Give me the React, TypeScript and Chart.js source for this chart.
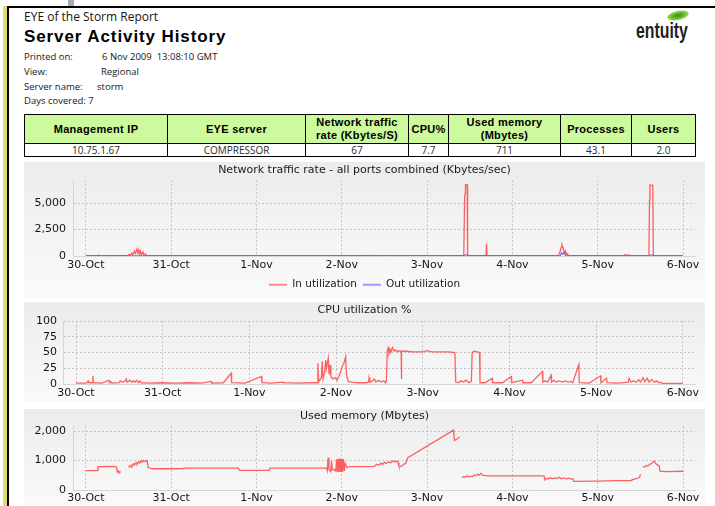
import React, { useEffect, useRef } from 'react';
import { Chart, registerables } from 'chart.js';

Chart.register(...registerables);

// ---------- data ----------
const dayLabels = ['30-Oct', '31-Oct', '1-Nov', '2-Nov', '3-Nov', '4-Nov', '5-Nov', '6-Nov'];
const dayTicks = [0, 1, 2, 3, 4, 5, 6, 7];

const netTicks = [0, 2500, 5000];
const cpuTicks = [0, 25, 50, 75, 100];
const memTicks = [0, 1000, 2000];

const netInData: [number, number][] = [
  [0.00, 20], [0.10, 25], [0.14, 20], [0.15, 90], [0.16, 20], [0.30, 30], [0.45, 25],
  [0.49, 40], [0.51, 160], [0.52, 60], [0.54, 280], [0.55, 120], [0.57, 450], [0.58, 220], [0.60, 650], [0.61, 280],
  [0.62, 560], [0.63, 180], [0.64, 480], [0.65, 110], [0.67, 380], [0.68, 70], [0.70, 200], [0.71, 30],
  [1.00, 25], [1.50, 30], [2.00, 25], [2.50, 30], [3.00, 25], [3.30, 30], [3.31, 70], [3.32, 25], [3.70, 30], [4.00, 30], [4.30, 25],
  [4.43, 30], [4.44, 5500], [4.445, 5900], [4.45, 6750], [4.47, 6750], [4.475, 30],
  [4.69, 30], [4.697, 1150], [4.703, 30],
  [5.00, 25], [5.30, 30], [5.54, 60], [5.56, 450], [5.57, 800], [5.58, 1080], [5.59, 850], [5.60, 560], [5.61, 300],
  [5.62, 480], [5.63, 170], [5.64, 250], [5.65, 30],
  [6.00, 25], [6.31, 30], [6.32, 130], [6.33, 30], [6.36, 110], [6.37, 30],
  [6.60, 30], [6.607, 5300], [6.612, 6700], [6.62, 6650], [6.63, 6700], [6.645, 6700], [6.652, 30],
  [7.00, 20],
];

const netOutData: [number, number][] = [
  [0.00, 5], [4.44, 5], [4.45, 110], [4.47, 110], [4.475, 5], [5.56, 5], [5.575, 300], [5.59, 180], [5.61, 330],
  [5.625, 5], [6.61, 5], [6.615, 90], [6.645, 90], [6.65, 5], [7.00, 5],
];

const cpuData: [number, number][] = [
  [0.00, 1.5], [0.10, 1.5], [0.13, 2], [0.14, 5], [0.15, 2], [0.19, 2], [0.195, 13], [0.20, 2], [0.30, 1.5], [0.38, 6], [0.385, 2], [0.40, 4], [0.41, 1.5],
  [0.50, 2], [0.51, 5], [0.53, 3], [0.56, 4], [0.58, 8], [0.59, 3], [0.62, 6], [0.64, 3], [0.66, 5], [0.68, 3], [0.70, 6], [0.72, 2], [0.74, 5], [0.75, 2],
  [0.85, 1.5], [1.00, 2], [1.15, 1.5], [1.30, 2], [1.45, 1.5], [1.56, 4], [1.565, 1.5], [1.70, 2], [1.79, 17], [1.795, 2], [1.95, 1.5],
  [2.14, 12], [2.145, 2], [2.25, 1.5], [2.39, 3], [2.395, 2], [2.55, 1.5], [2.70, 2], [2.78, 2],
  [2.79, 33], [2.80, 4], [2.83, 10], [2.84, 36], [2.85, 8], [2.87, 20], [2.88, 38], [2.89, 25], [2.91, 41], [2.92, 15], [2.93, 30], [2.94, 12],
  [2.96, 8], [2.99, 10], [3.01, 6], [3.04, 15], [3.06, 22], [3.07, 28], [3.09, 33], [3.11, 43], [3.12, 15], [3.14, 4], [3.18, 3],
  [3.25, 2], [3.35, 2], [3.375, 3], [3.38, 10], [3.39, 3], [3.42, 5], [3.44, 8], [3.46, 3], [3.49, 6], [3.52, 3], [3.55, 5], [3.57, 2],
  [3.58, 5], [3.59, 52], [3.60, 57], [3.61, 49], [3.62, 55], [3.63, 50], [3.65, 58], [3.67, 52], [3.69, 54], [3.71, 51], [3.73, 53], [3.75, 52],
  [3.752, 8], [3.758, 52], [3.80, 52], [3.90, 51], [4.00, 51], [4.05, 53], [4.10, 51], [4.20, 51], [4.30, 51], [4.37, 50],
  [4.38, 3], [4.41, 2], [4.44, 5], [4.47, 3], [4.50, 6], [4.53, 2], [4.56, 4],
  [4.57, 50], [4.59, 52], [4.63, 51], [4.655, 50], [4.66, 2], [4.72, 2], [4.80, 9], [4.805, 2], [4.92, 2], [5.02, 12], [5.025, 2],
  [5.15, 6], [5.155, 2], [5.25, 2], [5.38, 20], [5.385, 3], [5.41, 5], [5.44, 3], [5.48, 14], [5.485, 3], [5.51, 6], [5.54, 3], [5.57, 5],
  [5.61, 3], [5.64, 5], [5.68, 3], [5.71, 4], [5.73, 2],
  [5.80, 31], [5.805, 2], [5.92, 1.5], [6.05, 13], [6.055, 2], [6.12, 9], [6.125, 2], [6.25, 1.5],
  [6.37, 3], [6.38, 9], [6.40, 3], [6.43, 5], [6.46, 3], [6.49, 7], [6.51, 3], [6.54, 10], [6.56, 4], [6.59, 9], [6.61, 3], [6.64, 7],
  [6.67, 3], [6.70, 5], [6.72, 2], [6.74, 3], [6.76, 1], [7.00, 1],
];

const memData: [number, number | null][] = [
  [0.00, 660], [0.14, 660], [0.145, 790], [0.20, 795], [0.28, 800], [0.35, 795], [0.36, 770], [0.37, 610], [0.38, 650], [0.39, 580], [0.40, 640], [0.41, null],
  [0.49, null], [0.50, 810], [0.51, 780], [0.53, 840], [0.54, 800], [0.56, 890], [0.57, 850], [0.59, 930], [0.60, 880], [0.62, 960], [0.63, 910],
  [0.65, 990], [0.66, 940], [0.68, 1000], [0.70, 960], [0.71, 1000], [0.72, 990], [0.73, 760], [0.76, 730], [0.80, 720], [1.00, 720],
  [1.14, 722], [1.15, 745], [1.50, 745], [1.79, 740], [1.80, 665], [2.00, 665], [2.15, 670], [2.16, 740], [2.50, 745], [2.82, 750],
  [2.83, 650], [2.84, 1090], [2.85, 700], [2.87, 620], [2.88, 1000], [2.89, 680], [2.91, 700], [2.93, 640], [2.94, 1050], [2.95, 610],
  [2.96, 1060], [2.965, 620], [2.97, 1060], [2.975, 610], [2.98, 1060], [2.985, 620], [2.99, 1050], [3.00, 610], [3.005, 1050], [3.01, 620],
  [3.02, 1040], [3.03, 650], [3.04, 900], [3.06, 760], [3.10, 790],
  [3.20, 790], [3.38, 800], [3.39, 820], [3.41, 870], [3.43, 840], [3.46, 910], [3.48, 870], [3.50, 940], [3.52, 890], [3.55, 960], [3.57, 920],
  [3.60, 990], [3.62, 950], [3.65, 980], [3.66, 930], [3.67, 810], [3.70, 800], [3.73, 880], [3.75, 900], [3.77, 1090], [4.31, 2030],
  [4.32, 1680], [4.35, 1730], [4.38, 1800], [4.385, null],
  [4.39, null], [4.41, 420], [4.43, 450], [4.45, 430], [4.47, 490], [4.49, 440], [4.51, 470], [4.53, 450], [4.55, 510], [4.57, 480], [4.59, 530],
  [4.61, 500], [4.63, 560], [4.65, 500], [4.68, 490], [4.71, 480], [5.00, 480], [5.37, 480], [5.38, 340], [5.40, 400], [5.42, 370], [5.44, 420],
  [5.47, 380], [5.49, 410], [5.52, 390], [5.55, 430], [5.57, 380], [5.60, 410], [5.63, 380], [5.66, 400], [5.69, 370], [5.71, 380], [5.72, 290],
  [6.00, 300], [6.20, 315], [6.39, 320], [6.40, 345], [6.44, 380], [6.47, 400], [6.49, 430], [6.50, 530], [6.505, null],
  [6.52, null], [6.53, 800], [6.55, 780], [6.57, 830], [6.59, 810], [6.61, 870], [6.63, 900], [6.65, 950], [6.66, 980], [6.68, 900],
  [6.70, 850], [6.72, 820], [6.73, 640], [6.80, 620], [7.00, 635],
];

const tableHeaders = ['Management IP', 'EYE server', 'Network traffic|rate (Kbytes/S)', 'CPU%', 'Used memory|(Mbytes)', 'Processes', 'Users'];
const tableValues = ['10.75.1.67', 'COMPRESSOR', '67', '7.7', '711', '43.1', '2.0'];

const infoRows: [string, string, number][] = [
  ['Printed on:', '6 Nov 2009  13:08:10 GMT', 102],
  ['View:', 'Regional', 101],
  ['Server name:', 'storm', 97],
  ['Days covered:', '7', 0],
];

// ---------- chart helpers ----------
const FONT = 'DejaVu Sans';
const RED = 'rgba(255, 40, 40, 0.72)';
const BLUE = 'rgba(70, 70, 255, 0.75)';

type ChartSpec = {
  title: string;
  titlePad: [number, number];
  yMax: number;
  yTicks: number[];
  yWidth: number;
  yPad: number;
  xPad: number;
  xHeight: number;
  datasets: any[];
  legend?: boolean;
};

function buildConfig(spec: ChartSpec): any {
  const gridColor = '#c6c6c6';
  return {
    type: 'line',
    data: { datasets: spec.datasets },
    options: {
      animation: false,
      responsive: false,
      maintainAspectRatio: false,
      events: [],
      layout: { padding: 0 },
      elements: { point: { radius: 0 }, line: { tension: 0 } },
      scales: {
        x: {
          type: 'linear',
          min: -0.15,
          max: 7.14,
          afterBuildTicks: (s: any) => { s.ticks = dayTicks.map((v) => ({ value: v })); },
          afterFit: (s: any) => { s.height = spec.xHeight; },
          ticks: {
            callback: (v: number) => { const i = dayTicks.indexOf(v); return i >= 0 ? dayLabels[i] : ''; },
            font: { family: FONT, size: 11 },
            color: '#151515',
            padding: spec.xPad,
            maxRotation: 0,
            autoSkip: false,
          },
          grid: { color: gridColor, drawTicks: false, lineWidth: 1 },
          border: { display: true, color: '#d6d6d6', width: 1, dash: [2, 2] },
        },
        y: {
          type: 'linear',
          min: 0,
          max: spec.yMax,
          afterBuildTicks: (s: any) => { s.ticks = spec.yTicks.map((v) => ({ value: v })); },
          afterFit: (s: any) => { s.width = spec.yWidth; },
          ticks: {
            callback: (v: number) => Number(v).toLocaleString('en-US'),
            font: { family: FONT, size: 11 },
            color: '#151515',
            padding: spec.yPad,
            autoSkip: false,
          },
          grid: { color: gridColor, drawTicks: false, lineWidth: 1 },
          border: { display: true, color: '#d6d6d6', width: 1, dash: [2, 2] },
        },
        yR: {
          type: 'linear',
          position: 'right',
          display: true,
          grid: { display: false, drawTicks: false },
          ticks: { display: false },
          border: { display: false },
          afterFit: (s: any) => { s.width = 10; },
        },
      },
      plugins: {
        tooltip: { enabled: false },
        title: {
          display: true,
          text: spec.title,
          font: { family: FONT, size: 11, weight: 'normal' },
          color: '#1a1a1a',
          padding: { top: spec.titlePad[0], bottom: spec.titlePad[1] },
        },
        legend: spec.legend
          ? {
              display: true,
              position: 'bottom',
              labels: {
                usePointStyle: true,
                pointStyle: 'line',
                pointStyleWidth: 18,
                padding: 6,
                font: { family: FONT, size: 10.5 },
                color: '#1a1a1a',
                generateLabels: (chart: any) =>
                  Chart.defaults.plugins.legend.labels.generateLabels(chart).map((l: any, i: number) => ({
                    ...l,
                    lineWidth: 2,
                    strokeStyle: i === 0 ? '#ff8c8c' : '#9a9aff',
                  })),
              },
            }
          : { display: false },
      },
    },
  };
}

function toXY(arr: [number, number | null][]) {
  return arr.map(([x, y]) => ({ x, y }));
}

function ChartPanel(props: { top: number; height: number; canvasHeight: number; spec: ChartSpec }) {
  const ref = useRef<HTMLCanvasElement>(null);
  useEffect(() => {
    if (!ref.current) return;
    const chart = new Chart(ref.current, buildConfig(props.spec));
    return () => chart.destroy();
  }, []);
  return (
    <div
      style={{
        position: 'absolute',
        left: 24,
        top: props.top,
        width: 681,
        height: props.height,
        background: 'linear-gradient(#ececec, #fafafa)',
      }}
    >
      <canvas ref={ref} width={681} height={props.canvasHeight} style={{ display: 'block' }} />
    </div>
  );
}

function Txt(props: { x: number; y: number; size: number; children: any; bold?: boolean; family?: string; color?: string; ls?: number }) {
  return (
    <div
      style={{
        position: 'absolute',
        left: props.x,
        top: props.y - props.size * 0.6,
        fontSize: props.size,
        lineHeight: `${props.size * 1.2}px`,
        fontFamily: props.family || '"Open Sans", sans-serif',
        fontWeight: props.bold ? 700 : 400,
        color: props.color || '#161616',
        whiteSpace: 'pre',
        letterSpacing: props.ls || 0,
      }}
    >
      {props.children}
    </div>
  );
}

export default function App() {
  const netSpec: ChartSpec = {
    title: 'Network traffic rate - all ports combined (Kbytes/sec)',
    titlePad: [2, 3],
    yMax: 7170,
    yTicks: netTicks,
    yWidth: 49,
    yPad: 7,
    xPad: 3,
    xHeight: 17.5,
    legend: true,
    datasets: [
      { label: 'In utilization', data: toXY(netInData), borderColor: RED, borderWidth: 1.3, fill: false },
      { label: 'Out utilization', data: toXY(netOutData), borderColor: BLUE, borderWidth: 1.3, fill: false },
    ],
  };
  const cpuSpec: ChartSpec = {
    title: 'CPU utilization %',
    titlePad: [1.5, 4.3],
    yMax: 100,
    yTicks: cpuTicks,
    yWidth: 39,
    yPad: 6,
    xPad: 3,
    xHeight: 18,
    datasets: [{ label: 'CPU', data: toXY(cpuData), borderColor: RED, borderWidth: 1.3, fill: false }],
  };
  const memSpec: ChartSpec = {
    title: 'Used memory (Mbytes)',
    titlePad: [0.5, 3.3],
    yMax: 2170,
    yTicks: memTicks,
    yWidth: 49,
    yPad: 7,
    xPad: 2,
    xHeight: 18,
    datasets: [{ label: 'Memory', data: toXY(memData), borderColor: RED, borderWidth: 1.3, fill: false, spanGaps: false }],
  };

  const colWidths = [143, 138, 103, 40, 112, 71, 64];

  return (
    <div style={{ position: 'fixed', left: 0, top: 0, width: 715, height: 506, overflow: 'hidden', background: '#fff' }}>
      {/* frame decorations */}
      <div style={{ position: 'absolute', left: 68, top: 0, width: 6, height: 7, background: '#a3acb6' }} />
      <div style={{ position: 'absolute', left: 3, top: 6, width: 4, height: 500, background: '#e2dc6a' }} />
      <div style={{ position: 'absolute', left: 7, top: 6, width: 2, height: 500, background: '#000' }} />
      <div style={{ position: 'absolute', left: 7, top: 6, width: 708, height: 2, background: '#000' }} />

      {/* header text */}
      <Txt x={24} y={17} size={12}>EYE of the Storm Report</Txt>
      <Txt x={24} y={37} size={17} bold family='"Liberation Sans", Arial, sans-serif' ls={0.9} color="#000">
        Server Activity History
      </Txt>
      {infoRows.map(([label, value, vx], i) => (
        <React.Fragment key={label}>
          <Txt x={24} y={57 + i * 14.7} size={9.5}>{vx ? label : `${label} ${value}`}</Txt>
          {vx ? <Txt x={vx} y={57 + i * 14.7} size={9.5}>{value}</Txt> : null}
        </React.Fragment>
      ))}

      {/* logo */}
      <div
        style={{
          position: 'absolute',
          left: 667,
          top: 11,
          width: 22,
          height: 9,
          borderRadius: '50%',
          background: 'radial-gradient(ellipse at 50% 50%, #3f8f1f 0%, #5fb52a 35%, #9edc4f 70%, #b8ea6a 100%)',
          transform: 'rotate(-12deg)',
        }}
      />
      <div
        style={{
          position: 'absolute',
          left: 636,
          top: 18,
          fontFamily: '"Liberation Sans", Arial, sans-serif',
          fontWeight: 700,
          fontSize: 22,
          lineHeight: '26px',
          color: '#1f1f1f',
          transform: 'scaleX(0.72)',
          transformOrigin: '0 0',
          whiteSpace: 'nowrap',
        }}
      >
        entuity
      </div>

      {/* summary table */}
      <table
        style={{
          position: 'absolute',
          left: 24,
          top: 114,
          width: 671,
          borderCollapse: 'collapse',
          tableLayout: 'fixed',
        }}
      >
        <colgroup>
          {colWidths.map((w, i) => (
            <col key={i} style={{ width: w }} />
          ))}
        </colgroup>
        <tbody>
          <tr style={{ height: 29 }}>
            {tableHeaders.map((h, i) => (
              <td
                key={i}
                style={{
                  border: '1px solid #000',
                  background: '#ccfa9c',
                  padding: 0,
                  textAlign: 'center',
                  verticalAlign: 'middle',
                  fontFamily: '"Liberation Sans", Arial, sans-serif',
                  fontWeight: 700,
                  fontSize: 11,
                  letterSpacing: 0.3,
                  lineHeight: '13px',
                  color: '#000',
                }}
              >
                {h.split('|').map((part, j) => (
                  <div key={j}>{part}</div>
                ))}
              </td>
            ))}
          </tr>
          <tr style={{ height: 13 }}>
            {tableValues.map((v, i) => (
              <td
                key={i}
                style={{
                  border: '1px solid #000',
                  background: '#fff',
                  padding: 0,
                  textAlign: 'center',
                  verticalAlign: 'middle',
                  fontFamily: '"Open Sans", sans-serif',
                  fontSize: 10,
                  lineHeight: '11px',
                  color: '#2a2a2a',
                }}
              >
                {v}
              </td>
            ))}
          </tr>
        </tbody>
      </table>

      <ChartPanel top={162} height={137} canvasHeight={138} spec={netSpec} />
      <ChartPanel top={302} height={100} canvasHeight={100} spec={cpuSpec} />
      <ChartPanel top={409} height={100} canvasHeight={99} spec={memSpec} />
    </div>
  );
}
